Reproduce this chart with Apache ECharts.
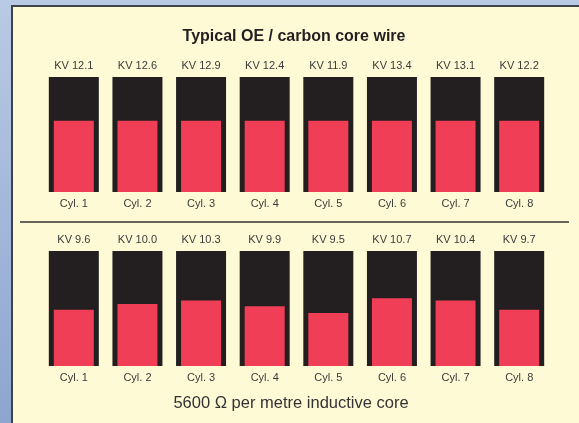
<!DOCTYPE html>
<html>
<head>
<meta charset="utf-8">
<script src="https://cdn.jsdelivr.net/npm/echarts@6/dist/echarts.min.js"></script>
<style>
html,body{margin:0;padding:0;background:#fff;}
#c{width:579px;height:423px;}
</style>
</head>
<body>
<div id="c"></div>
<script>
// ---- data ----
var cylinders = ['Cyl. 1','Cyl. 2','Cyl. 3','Cyl. 4','Cyl. 5','Cyl. 6','Cyl. 7','Cyl. 8'];
var kvTop = [12.1, 12.6, 12.9, 12.4, 11.9, 13.4, 13.1, 12.2];
var kvBottom = [9.6, 10.0, 10.3, 9.9, 9.5, 10.7, 10.4, 9.7];
// red fill level, percent of the full (black) column
var fillTop = [62, 62, 62, 62, 62, 62, 62, 62];
var fillBottom = [49, 54, 57, 52, 46, 59, 57, 49];
var fullScale = 100;
var titleText = 'Typical OE / carbon core wire';
var footerText = '5600 \u03A9 per metre inductive core';

var BLACK = '#231F20', RED = '#EF3E56', LABEL = '#3a3a3a';
var FONT = '"Liberation Sans", Arial, sans-serif';

function kvLabels(arr){ return arr.map(function(v){ return 'KV ' + v.toFixed(1); }); }
function full(arr){ return arr.map(function(){ return fullScale; }); }

var chart = echarts.init(document.getElementById('c'), null, {renderer:'canvas'});

function xAx(grid, data, pos){
  return {
    type:'category', gridIndex:grid, position:pos, data:data,
    axisLine:{show:false}, axisTick:{show:false}, splitLine:{show:false},
    axisLabel:{color:LABEL, fontSize:11, fontFamily:FONT, margin:6, interval:0}
  };
}
function yAx(grid){
  return {type:'value', gridIndex:grid, min:0, max:fullScale, show:false};
}

chart.setOption({
  animation:false,
  backgroundColor:'#fff',
  graphic:[
    {type:'rect', shape:{x:0,y:0,width:579,height:423}, z:-10,
     style:{fill:new echarts.graphic.LinearGradient(0,0,0,1,[{offset:0,color:'#B9CAE4'},{offset:1,color:'#8DA5CF'}])}},
    {type:'rect', shape:{x:12,y:6,width:580,height:430}, z:-9,
     style:{fill:'#FFFAD6', stroke:'#3E434B', lineWidth:2}},
    {type:'line', shape:{x1:20,y1:222,x2:569,y2:222}, z:-8,
     style:{stroke:'#333333', lineWidth:1.5}}
  ],
  title:[
    {text:titleText, left:289, top:24, textAlign:'center',
     textStyle:{fontSize:16, fontWeight:'bold', color:'#231F20', fontFamily:FONT}},
    {text:footerText, left:286, top:390, textAlign:'center',
     textStyle:{fontSize:16.5, fontWeight:'normal', color:'#333333', fontFamily:FONT}}
  ],
  grid:[
    {left:42, width:509, top:77, height:115},
    {left:42, width:509, top:251, height:115}
  ],
  xAxis:[
    xAx(0, cylinders, 'bottom'),
    xAx(0, kvLabels(kvTop), 'top'),
    xAx(1, cylinders, 'bottom'),
    xAx(1, kvLabels(kvBottom), 'top')
  ],
  yAxis:[yAx(0), yAx(0), yAx(1), yAx(1)],
  series:[
    {type:'bar', xAxisIndex:0, yAxisIndex:0, data:full(cylinders), barWidth:50,
     itemStyle:{color:BLACK}, silent:true, z:2},
    {type:'bar', xAxisIndex:1, yAxisIndex:1, data:fillTop, barWidth:40,
     itemStyle:{color:RED}, silent:true, z:3},
    {type:'bar', xAxisIndex:2, yAxisIndex:2, data:full(cylinders), barWidth:50,
     itemStyle:{color:BLACK}, silent:true, z:2},
    {type:'bar', xAxisIndex:3, yAxisIndex:3, data:fillBottom, barWidth:40,
     itemStyle:{color:RED}, silent:true, z:3}
  ]
});
</script>
</body>
</html>
